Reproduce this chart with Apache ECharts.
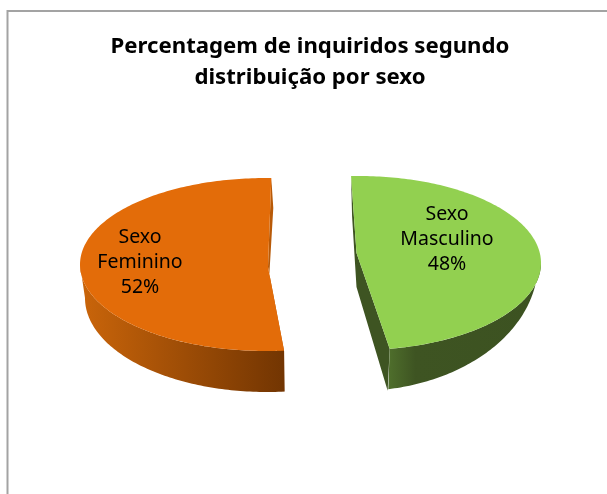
<!DOCTYPE html>
<html><head><meta charset="utf-8">
<style>html,body{margin:0;padding:0;background:#fff;overflow:hidden}#c{width:607px;height:494px}</style>
<script src="https://cdn.jsdelivr.net/npm/echarts@6/dist/echarts.min.js"></script>
</head><body><div id="c"></div>
<script>
const titleLines = ['Percentagem de inquiridos segundo', 'distribuição por sexo'];
const categories = ['Sexo Feminino', 'Sexo Masculino'];
const values = [52, 48];

// drawing layout of each exploded slice (ellipse of top face, ellipse of base, apex, start angle, cut wall offsets)
const layouts = [
  {top:{cx:266,cy:264.5,rx:186,ry:86.5}, base:{cx:267,cy:298,rx:182,ry:94}, apex:[268,267], start:174.43,
   cut:[[0,42],[0,30],[2,30]],
   face:'#e36c09', inner:'#b85a08', wall:[[0,'#c8640a'],[1,'#723502']], wallX:[85,285], outerFrom:174.43, outerTo:270, label:[140,262]},
  {top:{cx:359,cy:263,rx:182,ry:87}, base:{cx:358,cy:263,rx:180,ry:128}, apex:[356.5,253], start:-2.5,
   cut:[[1,40],[0,34],[-2,42]],
   face:'#92d050', inner:'#3e5422', wall:[[0,'#4f6f2c'],[0.18,'#3e5422'],[1,'#3c5221']], wallX:[388,540], outerFrom:90, outerTo:170.3, label:[447,239]}
];
const total = values.reduce((a,b)=>a+b,0);
function pt(e,deg){const r=deg*Math.PI/180;return [e.cx+e.rx*Math.sin(r),e.cy-e.ry*Math.cos(r)];}
function arc(e,a,b){const n=Math.max(2,Math.ceil(Math.abs(b-a)));const p=[];for(let i=0;i<=n;i++)p.push(pt(e,a+(b-a)*i/n));return p;}
function off(p,d){return [p[0]+d[0],p[1]+d[1]];}

const chart = echarts.init(document.getElementById('c'),null,{renderer:'canvas'});
chart.setOption({
  animation:false,
  backgroundColor:'#fff',
  title:{text:titleLines.join('\n'),left:305,top:26,textAlign:'center',
    textStyle:{fontFamily:'"Noto Sans"',fontWeight:'bold',fontSize:22.2,lineHeight:31,color:'#000'}},
  graphic:[{type:'rect',silent:true,shape:{x:7.5,y:11,width:800,height:700},style:{fill:'none',stroke:'#a3a3a3',lineWidth:2}}],
  series:[{
    type:'custom',coordinateSystem:'none',silent:true,
    data:values.map((v,i)=>({value:[i,v],name:categories[i]})),
    renderItem(params,api){
      const i=api.value(0), v=api.value(1), L=layouts[i];
      const sweep=v/total*360, a0=L.start, a1=a0+sweep;
      const s=pt(L.top,a0), e=pt(L.top,a1);
      const kids=[];
      // inner cut walls
      kids.push({type:'polygon',shape:{points:[s,L.apex,e,off(e,L.cut[2]),off(L.apex,L.cut[1]),off(s,L.cut[0])]},style:{fill:L.inner}});
      // outer rim
      const from=L.outerFrom,to=L.outerTo;
      const rim=arc(L.top,Math.max(from,a0),Math.min(to,a1)).concat(arc(L.base,Math.min(to,a1),Math.max(from,a0)));
      kids.push({type:'polygon',shape:{points:rim},style:{fill:new echarts.graphic.LinearGradient(L.wallX[0],0,L.wallX[1],0,L.wall.map(c=>({offset:c[0],color:c[1]})),true)}});
      // top face
      kids.push({type:'polygon',shape:{points:[L.apex].concat(arc(L.top,a0,a1))},style:{fill:L.face}});
      // label
      kids.push({type:'text',style:{x:L.label[0],y:L.label[1],text:categories[i].replace(' ','\n')+'\n'+v+'%',
        align:'center',verticalAlign:'middle',fontFamily:'"Noto Sans"',fontSize:19.5,lineHeight:25,fill:'#000'}});
      return {type:'group',children:kids};
    }
  }]
});
</script></body></html>
